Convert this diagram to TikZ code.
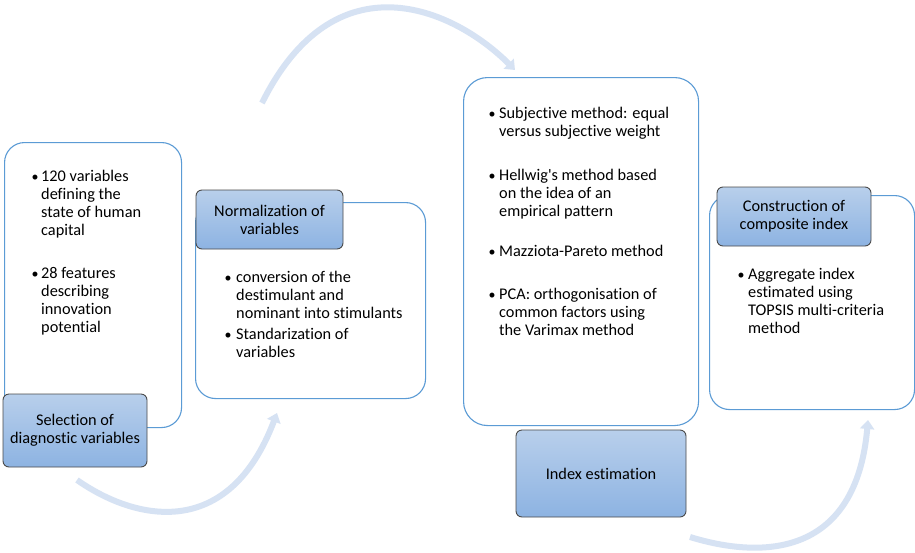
\documentclass[tikz,border=0pt]{standalone}
\usepackage{fontspec}
\setmainfont{Carlito}[Ligatures=NoCommon]
\usetikzlibrary{arrows.meta}
\definecolor{boxline}{HTML}{5B9BD5}
\definecolor{labtop}{HTML}{B8CFEB}
\definecolor{labbot}{HTML}{8DB3E2}
\definecolor{labline}{HTML}{4A4A4A}
\definecolor{arccol}{HTML}{D6E2F3}
\newcommand{\linesof}[1]{\begin{tabular}[t]{@{}l@{}}#1\end{tabular}}
\newcommand{\diagfont}{\fontsize{16.3}{18}\selectfont}
\begin{document}
\begin{tikzpicture}[x=1pt,y=-1pt,
  panel/.style={draw=boxline, line width=1.1pt, fill=white, rounded corners=20pt, anchor=north west, inner sep=0pt},
  labelbox/.style={draw=labline, line width=0.9pt, rounded corners=6pt, top color=labtop, bottom color=labbot, align=center, font=\diagfont, inner sep=0pt},
  bul/.style={anchor=base west, inner sep=0pt, font=\fontsize{14}{18}\selectfont},
  itemtext/.style={anchor=base west, inner sep=0pt, font=\diagfont},
  flow/.style={draw=arccol, line width=6pt, -{Triangle[width=14pt,length=9pt]}},
]
\useasboundingbox (0,0) rectangle (915,552);
\fill[white] (0,0) rectangle (915,552);

% flow arcs
\coordinate (a1s) at (262,103);
\coordinate (a1e) at (515,70);
\coordinate (a2s) at (77,480);
\coordinate (a2e) at (277,413);
\coordinate (a3s) at (690,537);
\coordinate (a3e) at (868,420);
\draw[flow] (a1s) .. controls (335,-44) and (453,8) .. (a1e);
\draw[flow] (a2s) .. controls (137,522) and (229,540) .. (a2e);
\draw[flow] (a3s) .. controls (765,560) and (856,555) .. (a3e);

% panels
\node[panel, minimum width=177pt, minimum height=285pt] (p1) at (4,142) {};
\node[panel, minimum width=230pt, minimum height=196pt] (p2) at (195,202) {};
\node[panel, minimum width=235pt, minimum height=348pt, rounded corners=24pt] (p3) at (463,77) {};
\node[panel, minimum width=205pt, minimum height=214pt] (p4) at (709,195) {};

% labels
\node[labelbox, minimum width=144pt, minimum height=73pt] (l1) at (75,430.5) {Selection of\\diagnostic variables};
\node[labelbox, minimum width=147pt, minimum height=59pt] (l2) at (269.5,219.5) {Normalization of\\variables};
\node[labelbox, minimum width=170pt, minimum height=87pt] (l3) at (601,473.5) {Index estimation};
\node[labelbox, minimum width=154pt, minimum height=59pt] (l4) at (794,216.5) {Construction of\\composite index};

% box 1 items
\node[bul] (b11) at (31.5,181) {\textbullet};
\node[itemtext] (t11) at (41,181) {\linesof{120 variables\\defining the\\state of human\\capital}};
\node[bul] (b12) at (31.5,278) {\textbullet};
\node[itemtext] (t12) at (41,278) {\linesof{28 features\\describing\\innovation\\potential}};

% box 2 items
\node[bul] (b21) at (224.5,282) {\textbullet};
\node[itemtext] (t21) at (236,282) {\linesof{conversion of the\\destimulant and\\nominant into stimulants}};
\node[bul] (b22) at (224.5,339) {\textbullet};
\node[itemtext] (t22) at (236,339) {\linesof{Standarization of\\variables}};

% box 3 items
\node[bul] (b31) at (488.5,118.5) {\textbullet};
\node[itemtext] (t31) at (499,118.5) {\linesof{Subjective method: equal\\versus subjective weight}};
\node[bul] (b32) at (488.5,180) {\textbullet};
\node[itemtext] (t32) at (499,180) {\linesof{Hellwig\textquotesingle s method based\\on the idea of an\\empirical pattern}};
\node[bul] (b33) at (488.5,256.5) {\textbullet};
\node[itemtext] (t33) at (499,256.5) {\linesof{Mazziota-Pareto method}};
\node[bul] (b34) at (488.5,299) {\textbullet};
\node[itemtext] (t34) at (499,299) {\linesof{PCA: orthogonisation of\\common factors using\\the Varimax method}};

% box 4 items
\node[bul] (b41) at (737.5,279) {\textbullet};
\node[itemtext] (t41) at (748,279) {\linesof{Aggregate index\\estimated using\\TOPSIS multi-criteria\\method}};
\end{tikzpicture}
\end{document}
